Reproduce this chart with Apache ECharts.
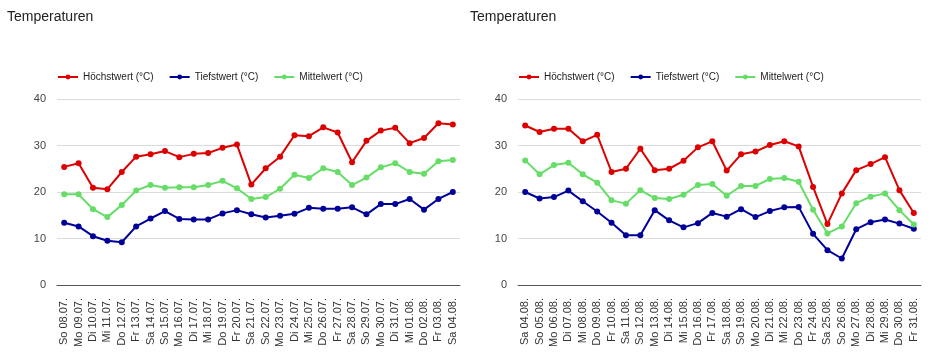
<!DOCTYPE html>
<html>
<head>
<meta charset="utf-8">
<script src="https://cdn.jsdelivr.net/npm/echarts@6/dist/echarts.min.js"></script>
<style>
body{margin:0;background:#fff;}
.box{position:absolute;top:0;width:466px;height:354px;}
.c1{left:0;}
.c2{left:466px;}
</style>
</head>
<body>
<div class="box c1"></div>
<div class="box c2"></div>
<script>
var seriesNames = ['Höchstwert (°C)', 'Tiefstwert (°C)', 'Mittelwert (°C)'];
var yTicks = [0, 10, 20, 30, 40];

// Juli / Anfang August
var days1 = ['So 08.07.','Mo 09.07.','Di 10.07.','Mi 11.07.','Do 12.07.','Fr 13.07.','Sa 14.07.','So 15.07.','Mo 16.07.','Di 17.07.','Mi 18.07.','Do 19.07.','Fr 20.07.','Sa 21.07.','So 22.07.','Mo 23.07.','Di 24.07.','Mi 25.07.','Do 26.07.','Fr 27.07.','Sa 28.07.','So 29.07.','Mo 30.07.','Di 31.07.','Mi 01.08.','Do 02.08.','Fr 03.08.','Sa 04.08.'];
var max1 = [25.4,26.2,20.9,20.6,24.3,27.6,28.1,28.8,27.5,28.2,28.4,29.5,30.2,21.6,25.1,27.6,32.2,32.0,33.9,32.8,26.4,31.0,33.2,33.8,30.5,31.6,34.8,34.5];
var min1 = [13.4,12.6,10.5,9.5,9.2,12.6,14.3,15.9,14.2,14.1,14.1,15.4,16.1,15.2,14.5,14.9,15.3,16.6,16.4,16.4,16.7,15.2,17.4,17.4,18.5,16.2,18.5,20.0];
var avg1 = [19.5,19.5,16.3,14.6,17.2,20.3,21.5,20.9,21.0,21.0,21.5,22.4,20.8,18.5,18.9,20.7,23.7,23.0,25.1,24.3,21.5,23.1,25.3,26.2,24.3,23.9,26.6,26.9];

// August
var days2 = ['Sa 04.08.','So 05.08.','Mo 06.08.','Di 07.08.','Mi 08.08.','Do 09.08.','Fr 10.08.','Sa 11.08.','So 12.08.','Mo 13.08.','Di 14.08.','Mi 15.08.','Do 16.08.','Fr 17.08.','Sa 18.08.','So 19.08.','Mo 20.08.','Di 21.08.','Mi 22.08.','Do 23.08.','Fr 24.08.','Sa 25.08.','So 26.08.','Mo 27.08.','Di 28.08.','Mi 29.08.','Do 30.08.','Fr 31.08.'];
var max2 = [34.3,32.9,33.6,33.6,30.9,32.3,24.3,25.0,29.3,24.7,25.0,26.7,29.6,30.9,24.6,28.1,28.7,30.1,30.9,29.8,21.1,13.1,19.7,24.7,26.0,27.5,20.4,15.5];
var min2 = [20.0,18.6,18.9,20.3,18.0,15.8,13.4,10.7,10.7,16.1,13.9,12.4,13.3,15.5,14.7,16.3,14.6,15.9,16.7,16.8,11.0,7.5,5.7,12.0,13.5,14.1,13.2,12.1];
var avg2 = [26.8,23.8,25.8,26.3,23.8,22.0,18.2,17.5,20.4,18.7,18.5,19.4,21.5,21.7,19.2,21.3,21.3,22.8,23.0,22.2,16.2,11.1,12.6,17.6,19.0,19.7,16.1,13.0];

var colors = ['#dd0000', '#000099', '#66dd66'];
var font = 'Liberation Sans, Arial, sans-serif';

function makeOption(days, max, min, avg, titleLeft, gridLeft, gridRight) {
    var lines = [max, min, avg].map(function (d, i) {
        return {
            name: seriesNames[i],
            type: 'line',
            data: d,
            symbol: 'circle',
            symbolSize: 6,
            color: colors[i],
            lineStyle: {width: 2},
            animation: false
        };
    });
    return {
        color: colors,
        textStyle: {fontFamily: font},
        title: {
            text: 'Temperaturen',
            left: titleLeft,
            top: 10,
            padding: 0,
            textStyle: {fontSize: 14, fontWeight: 'normal', color: '#222', fontFamily: font}
        },
        legend: {
            left: gridLeft,
            top: 72,
            padding: 0,
            itemWidth: 20,
            itemHeight: 6,
            itemGap: 15,
            textStyle: {fontSize: 10, color: '#222', fontFamily: font},
            data: seriesNames
        },
        grid: {left: gridLeft, right: gridRight, top: 99, bottom: 69},
        xAxis: {
            type: 'category',
            data: days,
            boundaryGap: true,
            axisTick: {show: false},
            axisLine: {lineStyle: {color: '#555', width: 1}},
            axisLabel: {interval: 0, rotate: 90, fontSize: 11, color: '#333', margin: 13, fontFamily: font}
        },
        yAxis: {
            type: 'value',
            min: yTicks[0],
            max: yTicks[yTicks.length - 1],
            interval: 10,
            axisLine: {show: false},
            axisTick: {show: false},
            splitLine: {lineStyle: {color: '#dcdcdc', width: 1}},
            axisLabel: {fontSize: 11, color: '#444', margin: 11, fontFamily: font}
        },
        series: lines
    };
}

var chart1 = echarts.init(document.querySelector('.c1'));
chart1.setOption(makeOption(days1, max1, min1, avg1, 7, 57, 6));

var chart2 = echarts.init(document.querySelector('.c2'));
chart2.setOption(makeOption(days2, max2, min2, avg2, 4, 52, 11));
</script>
</body>
</html>
